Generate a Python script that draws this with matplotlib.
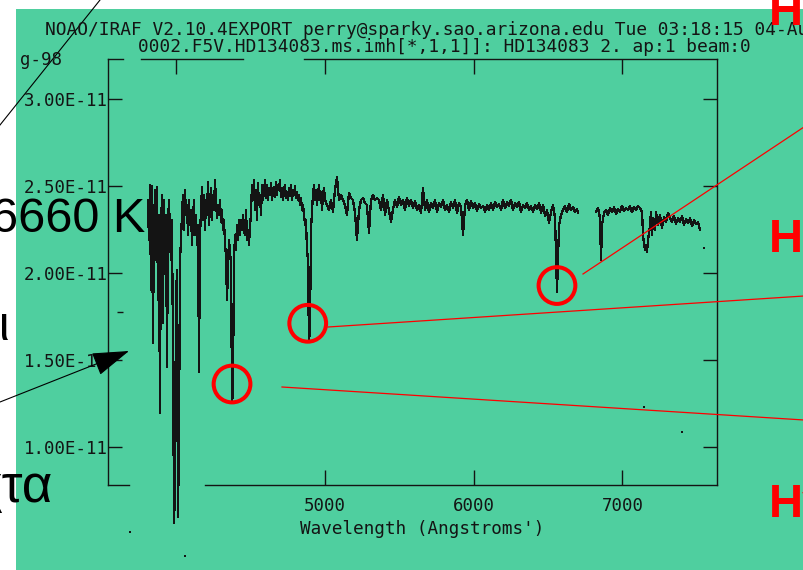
import numpy as np
import matplotlib
matplotlib.use("Agg")
import matplotlib.pyplot as plt
from matplotlib.lines import Line2D
from matplotlib.patches import Rectangle, FancyArrowPatch, ArrowStyle
from matplotlib.ticker import FuncFormatter

plt.rcParams["font.family"] = ["DejaVu Sans Mono"]

W, H = 804, 570
GREEN = "#4fcf9f"
INK = "#141414"
RED = "#ff0000"
FLUX_UNIT = 1e-11

# --- spectrum HD134083 (flux in units of 1e-11) ---------------------------
WAVE_A = [
    3810, 3816, 3823, 3830, 3837, 3843, 3850, 3857, 3864, 3870,
    3877, 3884, 3890, 3897, 3904, 3911, 3917, 3924, 3931, 3938,
    3944, 3951, 3958, 3964, 3971, 3978, 3985, 3991, 3998, 4005,
    4011, 4018, 4025, 4032, 4038, 4045, 4052, 4059, 4065, 4072,
    4079, 4085, 4092, 4099, 4106, 4112, 4119, 4126, 4133, 4139,
    4146, 4153, 4159, 4166, 4173, 4180, 4186, 4193, 4200, 4207,
    4213, 4220, 4227, 4233, 4240, 4247, 4254, 4260, 4267, 4274,
    4281, 4287, 4294, 4301, 4307, 4314, 4321, 4328, 4334, 4341,
    4348, 4354, 4361, 4368, 4375, 4381, 4388, 4395, 4402, 4408,
    4415, 4422, 4428, 4435, 4442, 4449, 4455, 4462, 4469, 4476,
    4482, 4489, 4496, 4502, 4509, 4516, 4523, 4529, 4536, 4543,
    4549, 4556, 4563, 4570, 4576, 4583, 4590, 4597, 4603, 4610,
    4617, 4623, 4630, 4637, 4644, 4650, 4657, 4664, 4671, 4677,
    4684, 4691, 4697, 4704, 4711, 4718, 4724, 4731, 4738, 4745,
    4751, 4758, 4765, 4771, 4778, 4785, 4792, 4798, 4805, 4812,
    4818, 4825, 4832, 4839, 4845, 4852, 4859, 4866, 4872, 4879,
    4886, 4892, 4899, 4906, 4913, 4919, 4926, 4933, 4940, 4946,
    4953, 4960, 4966, 4973, 4980, 4987, 4993,
]
FLUX_A = [
    2.420, 2.190, 2.506, 1.902, 2.500, 1.598, 2.247, 2.477, 2.075, 2.494,
    1.845, 2.333, 1.195, 2.247, 2.448, 1.713, 2.420, 2.132, 2.333, 1.460,
    2.276, 2.420, 2.218, 2.075, 2.305, 1.557, 0.563, 0.753, 1.845, 2.017,
    0.598, 0.983, 2.075, 2.190, 2.333, 2.448, 2.247, 2.477, 2.333, 2.391,
    2.218, 2.420, 2.276, 2.362, 2.161, 2.305, 2.420, 2.218, 2.333, 2.161,
    2.276, 1.431, 2.190, 2.362, 2.494, 2.305, 2.448, 2.247, 2.420, 2.333,
    2.523, 2.276, 2.391, 2.489, 2.305, 2.448, 2.362, 2.534, 2.420, 2.316,
    2.391, 2.333, 2.420, 2.293, 2.362, 2.247, 2.305, 2.161, 2.103, 1.845,
    2.017, 2.190, 2.132, 2.046, 1.270, 1.299, 2.075, 2.218, 2.132, 2.276,
    2.190, 2.305, 2.218, 2.305, 2.247, 2.333, 2.247, 2.218, 2.362, 2.190,
    2.247, 2.161, 2.276, 2.333, 2.506, 2.420, 2.534, 2.362, 2.477, 2.305,
    2.517, 2.391, 2.448, 2.333, 2.506, 2.420, 2.477, 2.534, 2.431, 2.506,
    2.420, 2.489, 2.448, 2.517, 2.420, 2.477, 2.494, 2.437, 2.523, 2.448,
    2.506, 2.477, 2.534, 2.437, 2.489, 2.420, 2.477, 2.506, 2.431, 2.466,
    2.420, 2.489, 2.443, 2.506, 2.420, 2.477, 2.448, 2.500, 2.431, 2.466,
    2.420, 2.448, 2.391, 2.431, 2.362, 2.391, 2.333, 2.276, 2.305, 2.132,
    2.075, 1.603, 1.672, 2.247, 2.362, 2.448, 2.506, 2.420, 2.477, 2.391,
    2.448, 2.506, 2.420, 2.466, 2.362, 2.448, 2.489,
]
WAVE_B = [
    5000, 5013, 5027, 5040, 5054, 5067, 5081, 5094, 5108, 5121,
    5135, 5148, 5161, 5175, 5188, 5202, 5215, 5229, 5242, 5256,
    5269, 5282, 5296, 5309, 5323, 5336, 5350, 5363, 5377, 5390,
    5404, 5417, 5430, 5444, 5457, 5471, 5484, 5498, 5511, 5525,
    5538, 5551, 5565, 5578, 5592, 5605, 5619, 5632, 5646, 5659,
    5673, 5686, 5699, 5713, 5726, 5740, 5753, 5767, 5780, 5794,
    5807, 5820, 5834, 5847, 5861, 5874, 5888, 5901, 5915, 5928,
    5942, 5955, 5968, 5982, 5995, 6009, 6022, 6036, 6049, 6063,
    6076, 6089, 6103, 6116, 6130, 6143, 6157, 6170, 6184, 6197,
    6211, 6224, 6237, 6251, 6264, 6278, 6291, 6305, 6318, 6332,
    6345, 6358, 6372, 6385, 6399, 6412, 6426, 6439, 6453, 6466,
    6480, 6493, 6506, 6520, 6533, 6547, 6560, 6574, 6587, 6601,
    6614, 6627, 6641, 6654, 6668, 6681, 6695, 6702,
]
FLUX_B = [
    2.420, 2.391, 2.362, 2.420, 2.351, 2.477, 2.552, 2.420, 2.448, 2.420,
    2.391, 2.333, 2.460, 2.431, 2.420, 2.345, 2.190, 2.362, 2.420, 2.431,
    2.402, 2.391, 2.230, 2.420, 2.448, 2.420, 2.431, 2.420, 2.362, 2.448,
    2.333, 2.420, 2.362, 2.293, 2.362, 2.420, 2.379, 2.437, 2.391, 2.420,
    2.362, 2.431, 2.385, 2.420, 2.374, 2.414, 2.362, 2.391, 2.345, 2.489,
    2.362, 2.420, 2.351, 2.402, 2.374, 2.420, 2.351, 2.402, 2.379, 2.420,
    2.362, 2.391, 2.351, 2.408, 2.374, 2.420, 2.345, 2.402, 2.379, 2.218,
    2.391, 2.420, 2.362, 2.414, 2.374, 2.402, 2.356, 2.397, 2.374, 2.385,
    2.351, 2.391, 2.362, 2.402, 2.362, 2.408, 2.379, 2.397, 2.362, 2.420,
    2.374, 2.408, 2.385, 2.420, 2.362, 2.402, 2.379, 2.408, 2.351, 2.391,
    2.374, 2.402, 2.362, 2.385, 2.351, 2.391, 2.368, 2.402, 2.345, 2.391,
    2.328, 2.362, 2.287, 2.351, 2.391, 2.316, 1.891, 2.276, 2.333, 2.362,
    2.385, 2.351, 2.397, 2.362, 2.379, 2.351, 2.368, 2.345,
]
WAVE_C = [
    6822, 6836, 6849, 6856, 6863, 6876, 6890, 6903, 6917, 6930,
    6944, 6957, 6970, 6984, 6997, 7011, 7024, 7038, 7051, 7064,
    7078, 7091, 7105, 7118, 7132, 7139, 7152, 7159, 7165, 7172,
    7186, 7192, 7199, 7206, 7219, 7226, 7239, 7253, 7266, 7280,
    7293, 7307, 7320, 7333, 7347, 7360, 7374, 7387, 7401, 7414,
    7428, 7441, 7455, 7468, 7482, 7495, 7508, 7522,
]
FLUX_C = [
    2.351, 2.374, 2.316, 2.075, 2.276, 2.345, 2.362, 2.333, 2.374, 2.351,
    2.379, 2.339, 2.368, 2.351, 2.385, 2.356, 2.374, 2.362, 2.385, 2.351,
    2.379, 2.362, 2.385, 2.374, 2.351, 2.207, 2.132, 2.161, 2.121, 2.190,
    2.276, 2.351, 2.218, 2.316, 2.247, 2.351, 2.276, 2.333, 2.259, 2.322,
    2.293, 2.345, 2.316, 2.293, 2.328, 2.282, 2.316, 2.293, 2.328, 2.276,
    2.310, 2.287, 2.316, 2.270, 2.305, 2.282, 2.293, 2.247,
]
# stray single points of the plot
STRAY_WAVE = [3689, 4058, 7145, 7401, 7549]
STRAY_FLUX = [0.511, 0.374, 1.230, 1.086, 2.144]
DASH_WAVE = [3621]
DASH_FLUX = [1.776]

XTICKS = [4000, 5000, 6000, 7000]
YTICKS = [1.0, 1.5, 2.0, 2.5, 3.0]
XLIM = (3541, 7636)
YLIM = (0.7816, 3.230)

# red circles around the Balmer lines (H gamma, H beta, H alpha)
CIRCLE_WAVE = [4375, 4884, 6560]
CIRCLE_FLUX = [1.362, 1.711, 1.928]

TITLE_1 = "NOAO/IRAF V2.10.4EXPORT perry@sparky.sao.arizona.edu Tue 03:18:15 04-Aug-98"
TITLE_2 = "0002.F5V.HD134083.ms.imh[*,1,1]]: HD134083 2. ap:1 beam:0"
XLABEL = "Wavelength (Angstroms')"


def fx(x):
    return x / W


def fy(y):
    return 1 - y / H


fig = plt.figure(figsize=(W / 100, H / 100), dpi=100, facecolor="white")
fig.add_artist(Rectangle((fx(16), 0), 1 - fx(16), fy(9), transform=fig.transFigure,
                         facecolor=GREEN, edgecolor="none", zorder=-10))

ax = fig.add_axes([fx(108), fy(485), 609 / W, 426 / H])
ax.patch.set_visible(False)

ax.plot(np.array(WAVE_A + WAVE_B), np.array(FLUX_A + FLUX_B) * FLUX_UNIT,
        color=INK, lw=0.9, clip_on=False, antialiased=False)
ax.plot(WAVE_C, np.array(FLUX_C) * FLUX_UNIT, color=INK, lw=0.9,
        clip_on=False, antialiased=False)
ax.scatter(STRAY_WAVE, np.array(STRAY_FLUX) * FLUX_UNIT, s=2, marker="s",
           color=INK, lw=0, clip_on=False)
ax.scatter(DASH_WAVE, np.array(DASH_FLUX) * FLUX_UNIT, s=20, marker="_",
           color=INK, lw=1.0, clip_on=False)
ax.scatter(CIRCLE_WAVE, np.array(CIRCLE_FLUX) * FLUX_UNIT, s=700, marker="o",
           facecolor="none", edgecolor=RED, lw=2.9, zorder=5)

ax.set_xlim(*XLIM)
ax.set_ylim(YLIM[0] * FLUX_UNIT, YLIM[1] * FLUX_UNIT)
ax.set_xticks(XTICKS)
ax.set_yticks(np.array(YTICKS) * FLUX_UNIT)
ax.xaxis.set_major_formatter(FuncFormatter(lambda v, p: f"{v:.0f}"))
ax.yaxis.set_major_formatter(FuncFormatter(lambda v, p: f"{v:.2E}"))
ax.tick_params(axis="x", direction="in", top=True, bottom=True, length=11,
               width=1.0, color=INK, labelcolor=INK, labelsize=12.5, pad=8.5)
ax.tick_params(axis="y", direction="in", left=True, right=True, length=10,
               width=1.0, color=INK, labelcolor=INK, labelsize=12.5, pad=0)
# the 4000 tick is missing on the lower edge
first = ax.xaxis.get_major_ticks()[0]
first.tick1line.set_visible(False)
first.label1.set_visible(False)

for side in ("left", "right"):
    ax.spines[side].set_color(INK)
    ax.spines[side].set_linewidth(1.0)
for side in ("top", "bottom"):
    ax.spines[side].set_visible(False)
# frame edges with their gaps
for a, b in [(0, 0.0345), (0.1593, 1)]:
    ax.plot([a, b], [0, 0], transform=ax.transAxes, color=INK, lw=1.0, clip_on=False)
for a, b in [(0, 0.0246), (0.0542, 0.2217), (0.3218, 1)]:
    ax.plot([a, b], [1, 1], transform=ax.transAxes, color=INK, lw=1.0, clip_on=False)

fig.text(fx(45), fy(35), TITLE_1, fontsize=12.9, color=INK, va="baseline")
fig.text(fx(138), fy(52), TITLE_2, fontsize=12.9, color=INK, va="baseline")
fig.text(fx(20), fy(65), "g-98", fontsize=12.5, color=INK, va="baseline")
fig.text(fx(300), fy(529), XLABEL, fontsize=12.7, color=INK, va="center")

# slide overlays
big = ["Liberation Sans", "DejaVu Sans"]
fig.text(fx(-9), fy(232), "6660 K", fontsize=35, family=big, color="black", va="baseline")
fig.text(fx(10), fy(340), "ιι", fontsize=35, family=big, color="black",
         va="baseline", ha="right")
fig.text(fx(53), fy(502), "χτα", fontsize=38, family=big, color="black",
         va="baseline", ha="right")
for label, base in [("Hα", 25), ("Hβ", 252), ("Hγ", 517)]:
    fig.text(fx(768.5), fy(base), label, fontsize=34, family=big, weight="bold",
             color=RED, va="baseline")

fig.add_artist(Line2D([fx(0), fx(100)], [fy(125), fy(0)], transform=fig.transFigure,
                      color="black", lw=0.8))
for (x0, y0), (x1, y1) in [((583, 274), (804, 127)),
                           ((328, 327), (804, 296)),
                           ((282, 387), (804, 420))]:
    fig.add_artist(Line2D([fx(x0), fx(x1)], [fy(y0), fy(y1)],
                          transform=fig.transFigure, color=RED, lw=0.9))
fig.add_artist(FancyArrowPatch((fx(0), fy(402)), (fx(129), fy(351)),
                               transform=fig.transFigure,
                               arrowstyle=ArrowStyle("-|>", head_length=23.6, head_width=7.6),
                               mutation_scale=1, shrinkA=0, shrinkB=0,
                               color="black", lw=0.8))

fig.savefig("out.png", dpi=100)
